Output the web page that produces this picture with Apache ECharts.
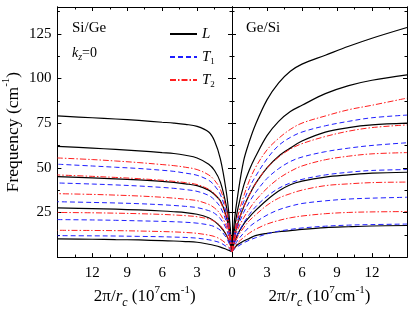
<!DOCTYPE html>
<html><head><meta charset="utf-8">
<script src="https://cdn.jsdelivr.net/npm/echarts@6/dist/echarts.min.js"></script>
<style>html,body{margin:0;padding:0;background:#fff}#c{width:415px;height:314px}</style>
</head><body><div id="c"></div>
<script>
// shared x samples (2π/r_c, 10^7 cm^-1)
const X = [0, 0.2, 0.5, 1, 1.5, 2, 3, 4, 5, 6, 8, 10, 12, 15];
const yTickLabels = [25, 50, 75, 100, 125];
const xTickLabelsLeft = [0, 3, 6, 9, 12];
const xTickLabelsRight = [3, 6, 9, 12];

// Si/Ge panel (left)
const sg_L1 = [3, 20, 37, 55, 65, 70, 73.2, 74.3, 75, 75.5, 76.5, 77.3, 78, 79];
const sg_L2 = [3, 16, 29, 42, 48.5, 52, 55.5, 57, 58, 58.5, 59.5, 60.3, 61, 62];
const sg_L3 = [3, 13, 23, 31.5, 35, 37.5, 40, 41, 41.8, 42.4, 43.2, 43.8, 44.3, 45];
const sg_L4 = [3, 8, 12.5, 17, 20, 22, 24, 24.9, 25.4, 25.8, 26.4, 26.8, 27.1, 27.5];
const sg_L5 = [3, 3.6, 4.4, 5.6, 6.5, 7.2, 8.3, 8.7, 9, 9.2, 9.6, 9.8, 10, 10.2];
const sg_T1a = [3, 14, 25, 35, 40, 43, 45.8, 47, 48, 48.6, 49.6, 50.3, 51, 52];
const sg_T1b = [3, 11.5, 20, 28, 32, 34.5, 36.8, 37.8, 38.5, 39, 39.8, 40.4, 40.9, 41.5];
const sg_T1c = [3, 9.5, 16, 21.5, 24.5, 26, 27.7, 28.4, 28.9, 29.3, 29.9, 30.3, 30.6, 31];
const sg_T1d = [3, 7, 11, 15, 17, 18, 19, 19.5, 19.8, 20, 20.3, 20.6, 20.8, 21];
const sg_T1e = [3, 4.5, 6, 8, 9, 9.7, 10.6, 11, 11.2, 11.4, 11.6, 11.8, 11.9, 12];
const sg_T2a = [3, 15, 27, 38, 43, 46, 49, 50.3, 51.2, 51.8, 52.9, 53.8, 54.6, 55.5];
const sg_T2b = [3, 12.5, 22, 31, 35.5, 38, 40.6, 41.7, 42.4, 43, 43.9, 44.6, 45.2, 46];
const sg_T2c = [3, 10.5, 17.5, 24, 27.5, 29.5, 31.6, 32.4, 33, 33.5, 34.2, 34.7, 35.1, 35.5];
const sg_T2d = [3, 8, 13, 17.5, 20, 21.3, 22.6, 23.2, 23.6, 23.9, 24.3, 24.6, 24.8, 25];
const sg_T2e = [3, 5, 7.5, 10, 11.5, 12.3, 13.3, 13.8, 14.1, 14.3, 14.6, 14.8, 14.9, 15];

// Ge/Si panel (right)
const gs_L1 = [3, 20, 35, 54, 65, 74, 88, 97.5, 104, 108, 113, 118, 122.5, 128.5];
const gs_L2 = [3, 15, 27, 40, 49, 56, 68, 76, 81.5, 85, 91.5, 96, 99, 102];
const gs_L3 = [3, 11, 19, 28, 35, 41, 50, 56.5, 61, 65, 70, 72.5, 74, 75];
const gs_L4 = [3, 8, 13, 18.5, 22.5, 26, 32, 37, 40.5, 42.5, 44.8, 46, 47, 47.5];
const gs_L5 = [3, 5, 7, 9, 10.5, 12, 13.3, 14.2, 14.8, 15.5, 16.5, 17, 17.4, 17.7];
const gs_T1a = [3, 12, 21, 31, 39, 45, 55, 62.5, 67, 70, 73.5, 76, 78, 79.5];
const gs_T1b = [3, 10, 17, 25, 31, 36, 44, 49.5, 53.5, 56, 59, 61, 62.5, 64];
const gs_T1c = [3, 8, 13, 19, 24, 28, 34, 38.5, 41.5, 43.5, 46, 47.5, 48.5, 49];
const gs_T1d = [3, 6, 9.5, 13.5, 17, 19.5, 23.5, 26.5, 28.5, 30, 31.5, 32.5, 33, 33.5];
const gs_T1e = [3, 4.5, 6, 8, 9.5, 10.8, 13, 14.5, 15.5, 16.3, 17.3, 17.9, 18.2, 18.5];
const gs_T2a = [3, 13, 23, 34, 43, 50, 60, 66.5, 71.5, 75, 79, 82.5, 85, 89];
const gs_T2b = [3, 11, 19, 28, 35, 41, 50, 56, 60.5, 63.5, 67.5, 70.5, 72.5, 74];
const gs_T2c = [3, 9, 15.5, 22, 27, 31.5, 38.5, 44, 48, 51, 54.5, 56.5, 57.8, 58.5];
const gs_T2d = [3, 7, 11.5, 16.5, 20.5, 23.5, 29, 33, 35.5, 37.5, 40, 41, 41.7, 42];
const gs_T2e = [3, 5, 8, 11, 13.5, 15.5, 18.5, 20.5, 22, 23, 24.3, 25, 25.3, 25.5];

const FONT = '"Liberation Serif","Times New Roman",serif';
const styles = {
  L: {color: '#000000', width: 1.2, type: 'solid'},
  T1: {color: '#1f1fff', width: 1, type: [5, 3]},
  T2: {color: '#ff1f1f', width: 1, type: [6, 2, 1.5, 2]}
};
function mk(name, vals, panel) {
  return {
    name: name, type: 'line', xAxisIndex: panel === 0 ? 0 : 2, yAxisIndex: panel === 0 ? 0 : 4,
    data: X.map((x, i) => [x, vals[i]]), symbol: 'none', showSymbol: false, smooth: 0.35,
    lineStyle: Object.assign({}, styles[name]), emphasis: {disabled: true}, silent: true,
    itemStyle: {color: styles[name].color}
  };
}
const series = [
  mk('L', sg_L1, 0), mk('L', sg_L2, 0), mk('L', sg_L3, 0), mk('L', sg_L4, 0), mk('L', sg_L5, 0),
  mk('T1', sg_T1a, 0), mk('T1', sg_T1b, 0), mk('T1', sg_T1c, 0), mk('T1', sg_T1d, 0), mk('T1', sg_T1e, 0),
  mk('T2', sg_T2a, 0), mk('T2', sg_T2b, 0), mk('T2', sg_T2c, 0), mk('T2', sg_T2d, 0), mk('T2', sg_T2e, 0),
  mk('L', gs_L1, 1), mk('L', gs_L2, 1), mk('L', gs_L3, 1), mk('L', gs_L4, 1), mk('L', gs_L5, 1),
  mk('T1', gs_T1a, 1), mk('T1', gs_T1b, 1), mk('T1', gs_T1c, 1), mk('T1', gs_T1d, 1), mk('T1', gs_T1e, 1),
  mk('T2', gs_T2a, 1), mk('T2', gs_T2b, 1), mk('T2', gs_T2c, 1), mk('T2', gs_T2d, 1), mk('T2', gs_T2e, 1)
];

const axLine = {show: true, onZero: false, lineStyle: {color: '#000', width: 1}};
const nameRich = {
  i: {fontFamily: FONT, fontStyle: 'italic', fontSize: 17, color: '#000', lineHeight: 24},
  sub: {fontFamily: FONT, fontStyle: 'italic', fontSize: 12, color: '#000', lineHeight: 13, verticalAlign: 'bottom'},
  sup: {fontFamily: FONT, fontSize: 11, color: '#000', lineHeight: 13, verticalAlign: 'top'}
};
const xName = '2π/{i|r}{sub|c} (10{sup|7}cm{sup|-1})';
function xAx(grid, pos, labels, inverse, named) {
  return {
    type: 'value', gridIndex: grid, position: pos, min: 0, max: 15, interval: 3, inverse: inverse,
    axisLine: axLine,
    axisTick: {show: true, inside: true, length: 4, lineStyle: {color: '#000'}},
    minorTick: {show: true, splitNumber: 2, length: 2.5, lineStyle: {color: '#000'}},
    splitLine: {show: false},
    axisLabel: labels ? {show: true, margin: 8, color: '#000', fontFamily: FONT, fontSize: 15,
      formatter: v => (labels.indexOf(v) >= 0 ? String(v) : '')} : {show: false},
    name: named ? xName : '', nameLocation: 'middle', nameGap: 21,
    nameTextStyle: {fontFamily: FONT, fontSize: 17, color: '#000', lineHeight: 24, rich: nameRich}
  };
}
function yAx(grid, pos, major, labels, named) {
  return {
    type: 'value', gridIndex: grid, position: pos, min: 0, max: 140, interval: major ? 25 : 12.5,
    axisLine: axLine,
    axisTick: {show: true, inside: true, length: major ? 4 : 2.5, lineStyle: {color: '#000'}},
    splitLine: {show: false},
    axisLabel: labels ? {show: true, margin: 6, color: '#000', fontFamily: FONT, fontSize: 15,
      formatter: v => (yTickLabels.indexOf(v) >= 0 ? String(v) : '')} : {show: false},
    name: named ? 'Frequency (cm{sup|-1})' : '', nameLocation: 'middle', nameGap: 32, nameRotate: 90,
    nameTextStyle: {fontFamily: FONT, fontSize: 17.5, color: '#000', lineHeight: 24, rich: nameRich}
  };
}
function legendFor(name, top) {
  return {
    data: [name], left: 169, top: top, padding: 0, itemWidth: 27, itemHeight: 12, itemGap: 0,
    selectedMode: false, orient: 'vertical',
    itemStyle: {color: 'rgba(0,0,0,0)', borderWidth: 0, opacity: 0},
    formatter: n => n === 'L' ? '{i|L}' : '{i|T}{s|' + n.slice(1) + '}',
    textStyle: {fontFamily: FONT, fontSize: 14, color: '#000', lineHeight: 18,
      rich: {i: {fontFamily: FONT, fontStyle: 'italic', fontSize: 15, color: '#000', lineHeight: 18},
             s: {fontFamily: FONT, fontSize: 9, color: '#000', lineHeight: 10, verticalAlign: 'bottom'}}}
  };
}
const option = {
  animation: false,
  backgroundColor: '#fff',
  grid: [
    {left: 57, top: 7, width: 175, height: 256, containLabel: false},
    {left: 232, top: 7, width: 175, height: 256, containLabel: false}
  ],
  xAxis: [
    xAx(0, 'bottom', xTickLabelsLeft, true, true),
    xAx(0, 'top', null, true, false),
    xAx(1, 'bottom', xTickLabelsRight, false, true),
    xAx(1, 'top', null, false, false)
  ],
  yAxis: [
    yAx(0, 'left', true, true, true), yAx(0, 'left', false, false, false),
    yAx(0, 'right', true, false, false), yAx(0, 'right', false, false, false),
    yAx(1, 'left', true, false, false), yAx(1, 'left', false, false, false),
    yAx(1, 'right', true, false, false), yAx(1, 'right', false, false, false)
  ],
  title: [
    {text: 'Si/Ge', left: 72, top: 21, padding: 0, textStyle: {fontFamily: FONT, fontSize: 15, fontWeight: 'normal', color: '#000'}},
    {text: '{i|k}{s|z}=0', left: 72, top: 44, padding: 0,
      textStyle: {fontFamily: FONT, fontSize: 14, fontWeight: 'normal', color: '#000', lineHeight: 18,
        rich: {i: {fontFamily: FONT, fontStyle: 'italic', fontSize: 14, color: '#000', lineHeight: 18},
               s: {fontFamily: FONT, fontStyle: 'italic', fontSize: 10, color: '#000', lineHeight: 10, verticalAlign: 'bottom'}}}},
    {text: 'Ge/Si', left: 246, top: 21, padding: 0, textStyle: {fontFamily: FONT, fontSize: 15, fontWeight: 'normal', color: '#000'}}
  ],
  legend: [legendFor('L', 25), legendFor('T1', 48), legendFor('T2', 71)],
  series: series
};
const chart = echarts.init(document.getElementById('c'), null, {renderer: 'canvas'});
chart.setOption(option);
</script>
</body></html>
